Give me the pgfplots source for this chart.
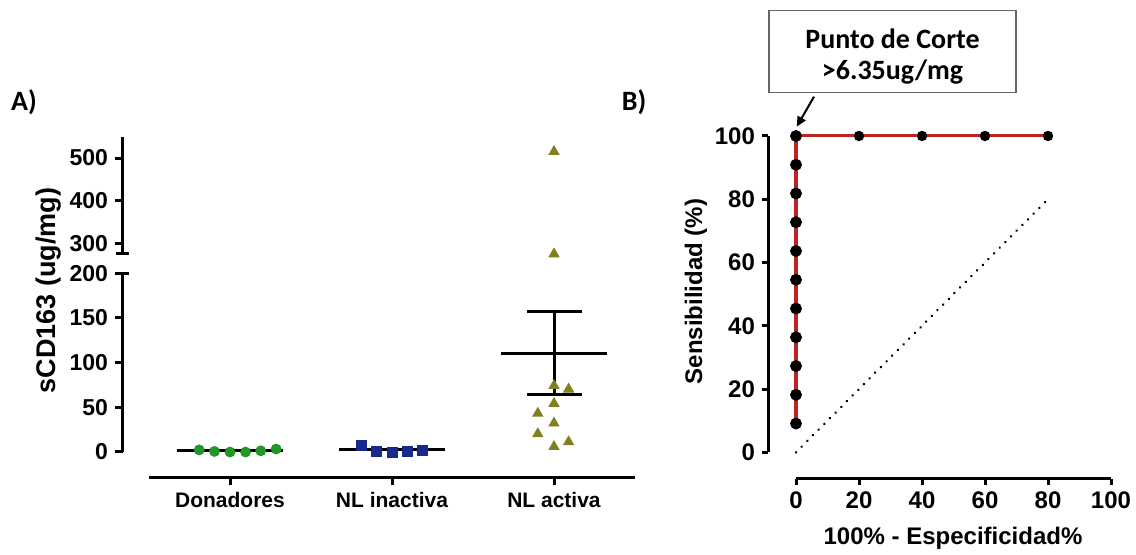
\documentclass[border=0pt]{standalone}
\usepackage{fontspec}
\setmainfont{Liberation Sans}
\newfontfamily\calibri{Carlito}
\usepackage{pgfplots}
\pgfplotsset{compat=1.18}
\usetikzlibrary{arrows.meta}

\definecolor{dgreen}{RGB}{35,150,40}
\definecolor{dblue}{RGB}{25,40,140}
\definecolor{olive}{RGB}{128,128,30}
\definecolor{rocred}{RGB}{190,35,35}

\pgfplotsset{
  prism/.style={
    scale only axis, clip=false,
    axis line style={-, line width=1.5pt},
    tick align=outside, major tick length=4pt,
    every tick/.style={black, line width=1.5pt},
  },
}

\begin{document}
\begin{tikzpicture}
\useasboundingbox (0,0) rectangle (568pt,277.5pt);

% A) lower segment, 0-200
\begin{axis}[prism,
  at={(74.5pt,51.65pt)}, anchor=south west,
  width=243pt, height=89.2pt,
  xmin=-0.5, xmax=2.5, ymin=0, ymax=200,
  axis x line*=bottom, axis y line*=left,
  axis x line shift=12.8pt, axis y line shift=13pt,
  xtick={0,1,2}, xticklabels={Donadores,NL inactiva,NL activa},
  ytick={0,50,100,150,200}, yticklabels={0,50,100,150,200},
  x tick label style={font=\bfseries\fontsize{10.5}{12}\selectfont},
  y tick label style={font=\bfseries\fontsize{11.5}{13}\selectfont},
]
\addplot[only marks, mark=*, mark size=2.5pt, dgreen] coordinates {
  (-0.19,2) (-0.096,0.3) (0,-0.4) (0.096,-0.4) (0.19,1) (0.285,3)};
\addplot[only marks, mark=square*, mark size=2.5pt, dblue] coordinates {
  (0.81,6.5) (0.904,0.5) (1,-0.3) (1.096,0) (1.19,1.2)};
\addplot[only marks, mark=triangle*, mark size=2.9pt, olive] coordinates {
  (2,74) (2.09,70) (2,54) (1.9,43) (2,32) (1.9,20) (2.09,11) (2,5.6)};
% means and SEM
\addplot[black, line width=1.5pt] coordinates {(-0.33,1.2) (0.33,1.2)};
\addplot[black, line width=1.5pt] coordinates {(0.67,2) (1.33,2)};
\addplot[black, line width=1.5pt] coordinates {(1.67,110.5) (2.33,110.5)};
\addplot[black, line width=1.5pt] coordinates {(2,64.5) (2,157)};
\addplot[black, line width=1.5pt] coordinates {(1.835,157) (2.17,157)};
\addplot[black, line width=1.5pt] coordinates {(1.835,64.5) (2.17,64.5)};
\end{axis}

% A) upper segment, 275-550
\begin{axis}[prism,
  at={(74.5pt,150.5pt)}, anchor=south west,
  width=243pt, height=58.65pt,
  xmin=-0.5, xmax=2.5, ymin=275, ymax=550,
  axis x line=none, axis y line*=left, axis y line shift=13pt,
  ytick={300,400,500}, yticklabels={300,400,500},
  y tick label style={font=\bfseries\fontsize{11.5}{13}\selectfont},
]
\addplot[only marks, mark=triangle*, mark size=2.9pt, olive] coordinates {
  (2,515) (2,275)};
\end{axis}

% axis break stubs
\draw[line width=1.5pt] (58pt,140.85pt) -- (64.5pt,140.85pt);
\draw[line width=1.5pt] (58pt,150.5pt) -- (64.5pt,150.5pt);

% B) ROC curve
\begin{axis}[prism,
  at={(398pt,51.35pt)}, anchor=south west,
  width=157.5pt, height=158.15pt,
  xmin=0, xmax=100, ymin=0, ymax=100,
  axis x line*=bottom, axis y line*=left,
  axis x line shift=13.35pt, axis y line shift=14pt,
  xtick={0,20,40,60,80,100}, xticklabels={0,20,40,60,80,100},
  ytick={0,20,40,60,80,100}, yticklabels={0,20,40,60,80,100},
  major tick length=3pt,
  tick label style={font=\bfseries\fontsize{12}{14}\selectfont},
]
\addplot[black, line width=1.4pt, dash pattern=on 0.01pt off 4pt, line cap=round] coordinates {(0,0) (80,80)};
\addplot[rocred, line width=2.2pt, mark=*, mark size=1.8pt, mark options={black, fill=black}] coordinates {
  (0,9.09) (0,18.18) (0,27.27) (0,36.36) (0,45.45) (0,54.55) (0,63.64) (0,72.73) (0,81.82) (0,90.91) (0,100)};
\addplot[rocred, line width=1.5pt, mark=*, mark size=1.8pt, mark options={black, fill=black}] coordinates {
  (0,100) (20,100) (40,100) (60,100) (80,100)};
\end{axis}

% labels
\node[rotate=90, font=\bfseries\fontsize{13.5}{15}\selectfont] at (24.5pt,132.25pt) {sCD163 (ug/mg)};
\node[rotate=90, font=\bfseries\fontsize{12}{14}\selectfont] at (348pt,131.75pt) {Sensibilidad (\%)};
\node[font=\bfseries\fontsize{12}{14}\selectfont] at (476.5pt,8.5pt) {100\% - Especificidad\%};
\node[font=\calibri\bfseries\fontsize{14}{16}\selectfont] at (12pt,226.5pt) {A)};
\node[font=\calibri\bfseries\fontsize{14}{16}\selectfont] at (317pt,226.5pt) {B)};

% annotation
\draw[black!60, line width=0.6pt, fill=white] (384.5pt,231.15pt) rectangle (508pt,272.15pt);
\node[font=\calibri\bfseries\fontsize{14}{16}\selectfont] at (446.25pt,258pt) {Punto de Corte};
\node[font=\calibri\bfseries\fontsize{14}{16}\selectfont] at (446.25pt,241.5pt) {>6.35ug/mg};
\draw[-{Triangle[length=5pt,width=4.5pt]}, line width=1pt] (407pt,229.15pt) -- (398.35pt,214.15pt);
\end{tikzpicture}
\end{document}
